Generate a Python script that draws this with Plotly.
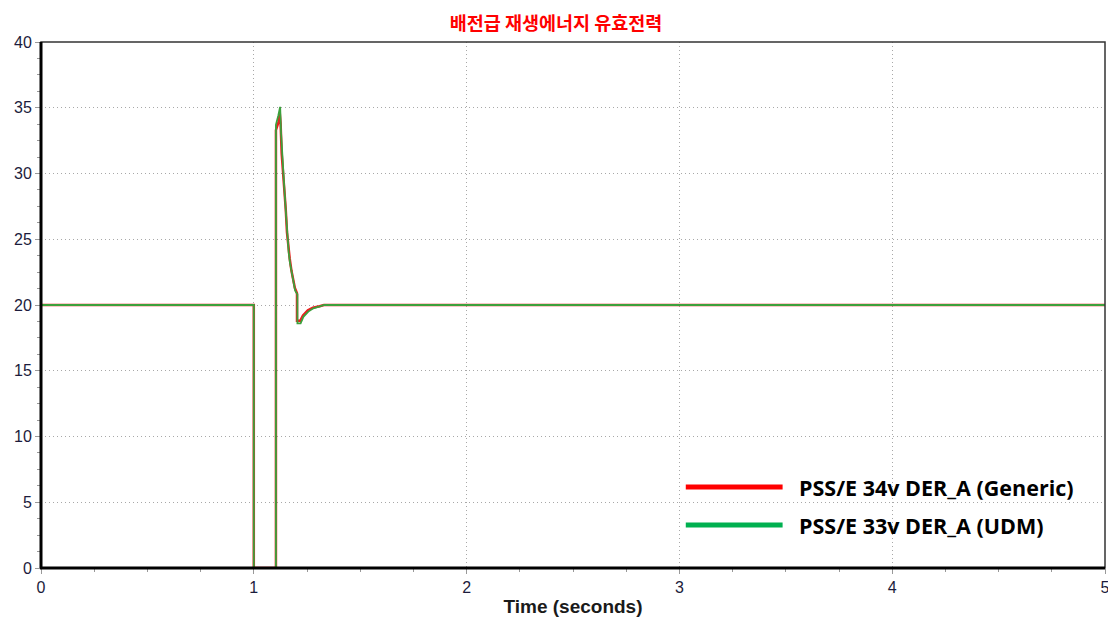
import plotly.graph_objects as go

# Data
t_udm = [0, 1.0, 1.0, 1.104, 1.104, 1.108, 1.115, 1.123, 1.124, 1.128, 1.134, 1.139, 1.143,
         1.151, 1.157, 1.164, 1.170, 1.178, 1.186, 1.194, 1.205, 1.205, 1.220, 1.233,
         1.256, 1.280, 1.311, 1.33, 5.0]
p_udm = [20, 20, 0, 0, 33.7, 33.9, 34.4, 35.0, 35.0, 33.1, 31.0, 30.0, 29.0,
         27.0, 25.2, 24.0, 23.2, 22.4, 21.7, 21.1, 20.8, 18.6, 18.6, 19.1,
         19.5, 19.75, 19.9, 20, 20]

t_gen = [0, 1.0, 1.0, 1.104, 1.104, 1.110, 1.118, 1.122, 1.126, 1.131, 1.137, 1.142,
         1.150, 1.156, 1.163, 1.169, 1.177, 1.185, 1.193, 1.203, 1.203, 1.218, 1.231,
         1.254, 1.278, 1.309, 1.33, 5.0]
p_gen = [20, 20, 0, 0, 33.3, 33.6, 34.0, 34.6, 33.8, 31.5, 30.3, 29.3,
         27.3, 25.5, 24.3, 23.5, 22.6, 21.9, 21.3, 20.9, 18.8, 18.8, 19.2,
         19.6, 19.8, 19.9, 20, 20]

series_names = ["PSS/E 34v DER_A (Generic)", "PSS/E 33v DER_A (UDM)"]
x_ticks = [0, 1, 2, 3, 4, 5]
y_ticks = [0, 5, 10, 15, 20, 25, 30, 35, 40]

fig = go.Figure()
fig.add_trace(go.Scatter(x=t_gen, y=p_gen, mode="lines", name=series_names[0],
                         line=dict(color="rgb(235,30,30)", width=2.5), showlegend=False))
fig.add_trace(go.Scatter(x=t_udm, y=p_udm, mode="lines", name=series_names[1],
                         line=dict(color="rgb(60,160,60)", width=1.8), showlegend=False))

tickfont = dict(family="Liberation Sans, Arial", size=16, color="#1c1c3c")
grid_kw = dict(showgrid=True, gridcolor="#a8a8a8", griddash="1px,3px", gridwidth=1)
fig.update_xaxes(range=[0, 5], tickvals=x_ticks, ticktext=[str(v) for v in x_ticks],
                 automargin=False, zeroline=False, showline=False,
                 ticks="outside", ticklen=5, tickcolor="#999",
                 tickfont=tickfont,
                 minor=dict(dtick=0.25, ticks="outside", ticklen=3, tickcolor="#999", showgrid=False),
                 title=dict(text="<b>Time (seconds)</b>",
                            font=dict(family="Liberation Sans, Arial", size=19, color="#1a1a1a"),
                            standoff=4),
                 **grid_kw)
fig.update_yaxes(range=[0, 40], tickvals=y_ticks, ticktext=[str(v) for v in y_ticks],
                 automargin=False, zeroline=False, showline=False,
                 ticks="outside", ticklen=5, tickcolor="#999",
                 tickfont=tickfont,
                 minor=dict(dtick=1.25, ticks="outside", ticklen=3, tickcolor="#999", showgrid=False),
                 **grid_kw)

shapes = [
    dict(type="rect", xref="paper", yref="paper", x0=0, y0=0, x1=1, y1=1,
         line=dict(color="#333", width=1.5), layer="above"),
    dict(type="line", xref="paper", yref="paper", x0=0, y0=0, x1=0, y1=1,
         line=dict(color="black", width=3), layer="above"),
    dict(type="line", xref="paper", yref="paper", x0=-0.001, y0=0, x1=1, y1=0,
         line=dict(color="black", width=3), layer="above"),
    # legend swatches
    dict(type="line", xref="paper", yref="paper", x0=0.606, x1=0.697, y0=0.1539, y1=0.1539,
         line=dict(color="#ff0000", width=5)),
    dict(type="line", xref="paper", yref="paper", x0=0.606, x1=0.697, y0=0.0817, y1=0.0817,
         line=dict(color="#00b050", width=5)),
]
legend_font = dict(family="Open Sans", size=21.5, color="black", weight="bold")
annotations = [
    dict(text=series_names[0], xref="paper", yref="paper", x=0.7105, y=0.1539,
         xanchor="left", yanchor="middle", showarrow=False, font=legend_font),
    dict(text=series_names[1], xref="paper", yref="paper", x=0.7105, y=0.0817,
         xanchor="left", yanchor="middle", showarrow=False, font=legend_font),
]

# page body has an 8px margin: figure is 1108x615 so it ends at the window edge
fig.update_layout(
    width=1108, height=615,
    margin=dict(l=33, r=11, t=34, b=55),
    paper_bgcolor="white", plot_bgcolor="white",
    title=dict(text="배전급 재생에너지 유효전력", x=0.4946, xanchor="center", y=0.974, yanchor="middle",
               font=dict(family="Noto Sans CJK KR", size=18.5, color="#ff0000", weight="bold")),
    shapes=shapes, annotations=annotations, showlegend=False,
)

fig.write_html("out.html")
